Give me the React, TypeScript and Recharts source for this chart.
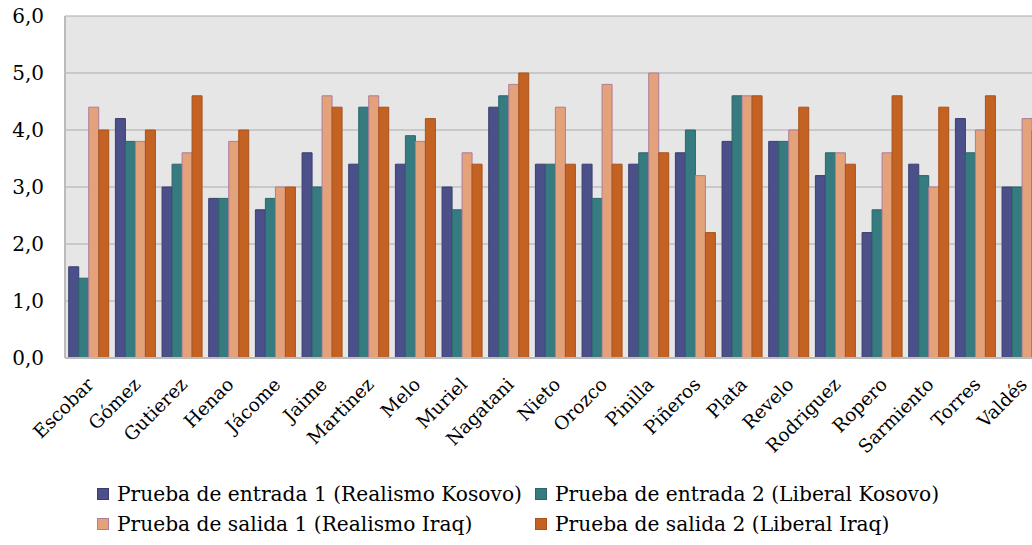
import React from 'react';
import { BarChart, Bar, XAxis, YAxis, CartesianGrid, Legend } from 'recharts';

const categories = ['Escobar', 'Gómez', 'Gutierez', 'Henao', 'Jácome', 'Jaime', 'Martinez', 'Melo', 'Muriel', 'Nagatani', 'Nieto', 'Orozco', 'Pinilla', 'Piñeros', 'Plata', 'Revelo', 'Rodriguez', 'Ropero', 'Sarmiento', 'Torres', 'Valdés'];
const entrada1 = [1.6, 4.2, 3.0, 2.8, 2.6, 3.6, 3.4, 3.4, 3.0, 4.4, 3.4, 3.4, 3.4, 3.6, 3.8, 3.8, 3.2, 2.2, 3.4, 4.2, 3.0];
const entrada2 = [1.4, 3.8, 3.4, 2.8, 2.8, 3.0, 4.4, 3.9, 2.6, 4.6, 3.4, 2.8, 3.6, 4.0, 4.6, 3.8, 3.6, 2.6, 3.2, 3.6, 3.0];
const salida1 = [4.4, 3.8, 3.6, 3.8, 3.0, 4.6, 4.6, 3.8, 3.6, 4.8, 4.4, 4.8, 5.0, 3.2, 4.6, 4.0, 3.6, 3.6, 3.0, 4.0, 4.2];
const salida2 = [4.0, 4.0, 4.6, 4.0, 3.0, 4.4, 4.4, 4.2, 3.4, 5.0, 3.4, 3.4, 3.6, 2.2, 4.6, 4.4, 3.4, 4.6, 4.4, 4.6, 4.0];
const yTicks = [0, 1, 2, 3, 4, 5, 6];

const seriesNames = [
  'Prueba de entrada 1 (Realismo Kosovo)',
  'Prueba de entrada 2 (Liberal Kosovo)',
  'Prueba de salida 1 (Realismo Iraq)',
  'Prueba de salida 2 (Liberal Iraq)',
];
const fills = ['#4B4F8A', '#357B80', '#E3A27A', '#C46224'];
const strokes = ['#3A3D6E', '#2B6669', '#B07A9A', '#A9521C'];

const data = categories.map((c, i) => ({
  name: c,
  e1: entrada1[i],
  e2: entrada2[i],
  s1: salida1[i],
  s2: salida2[i],
}));

const FONT = '"DejaVu Serif", serif';

const XTick = (props: any) => {
  const { x, y, payload } = props;
  return (
    <g transform={`translate(${x + 1},${y + 14})`}>
      <text x={0} y={0} dy={8} textAnchor="end" transform="rotate(-45)" fontFamily={FONT} fontSize={18.5} fill="#000">
        {payload.value}
      </text>
    </g>
  );
};

const LegendContent = () => {
  const items = [
    { left: 97, top: 7, i: 0 },
    { left: 535, top: 7, i: 1 },
    { left: 97, top: 37, i: 2 },
    { left: 535, top: 37, i: 3 },
  ];
  return (
    <div style={{ position: 'relative', width: 1032, height: 70 }}>
      {items.map((it) => (
        <div key={it.i} style={{ position: 'absolute', left: it.left, top: it.top, display: 'flex', alignItems: 'center', whiteSpace: 'nowrap' }}>
          <span style={{ display: 'inline-block', width: 10, height: 10, background: fills[it.i], border: `1px solid ${strokes[it.i]}`, marginRight: 8 }} />
          <span style={{ fontFamily: FONT, fontSize: 20.2, color: '#000', lineHeight: '24px' }}>{seriesNames[it.i]}</span>
        </div>
      ))}
    </div>
  );
};

export default function App() {
  return (
    <div style={{ position: 'fixed', left: 0, top: 0, width: 1032, height: 545, overflow: 'hidden', background: '#fff' }}>
      <BarChart
        width={1060}
        height={545}
        data={data}
        margin={{ top: 16, right: 15, bottom: 0, left: 0 }}
        barCategoryGap="8%"
        barGap={0}
      >
        <CartesianGrid vertical={false} stroke="#ABABAB" fill="#E6E6E6" />
        <XAxis
          dataKey="name"
          interval={0}
          height={117}
          tickLine={false}
          axisLine={{ stroke: '#BBBBBB', strokeWidth: 2 }}
          tick={<XTick />}
        />
        <YAxis
          width={65}
          domain={[0, 6]}
          ticks={yTicks}
          tickLine={false}
          axisLine={{ stroke: '#BBBBBB', strokeWidth: 2 }}
          tickMargin={15}
          tickFormatter={(v: number) => v.toFixed(1).replace('.', ',')}
          tick={{ fontFamily: FONT, fontSize: 20, fill: '#000' }}
        />
        <Legend verticalAlign="bottom" content={<LegendContent />} wrapperStyle={{ left: 0, width: 1032 }} />
        <Bar dataKey="e1" name={seriesNames[0]} fill={fills[0]} stroke={strokes[0]} isAnimationActive={false} />
        <Bar dataKey="e2" name={seriesNames[1]} fill={fills[1]} stroke={strokes[1]} isAnimationActive={false} />
        <Bar dataKey="s1" name={seriesNames[2]} fill={fills[2]} stroke={strokes[2]} isAnimationActive={false} />
        <Bar dataKey="s2" name={seriesNames[3]} fill={fills[3]} stroke={strokes[3]} isAnimationActive={false} />
      </BarChart>
    </div>
  );
}
